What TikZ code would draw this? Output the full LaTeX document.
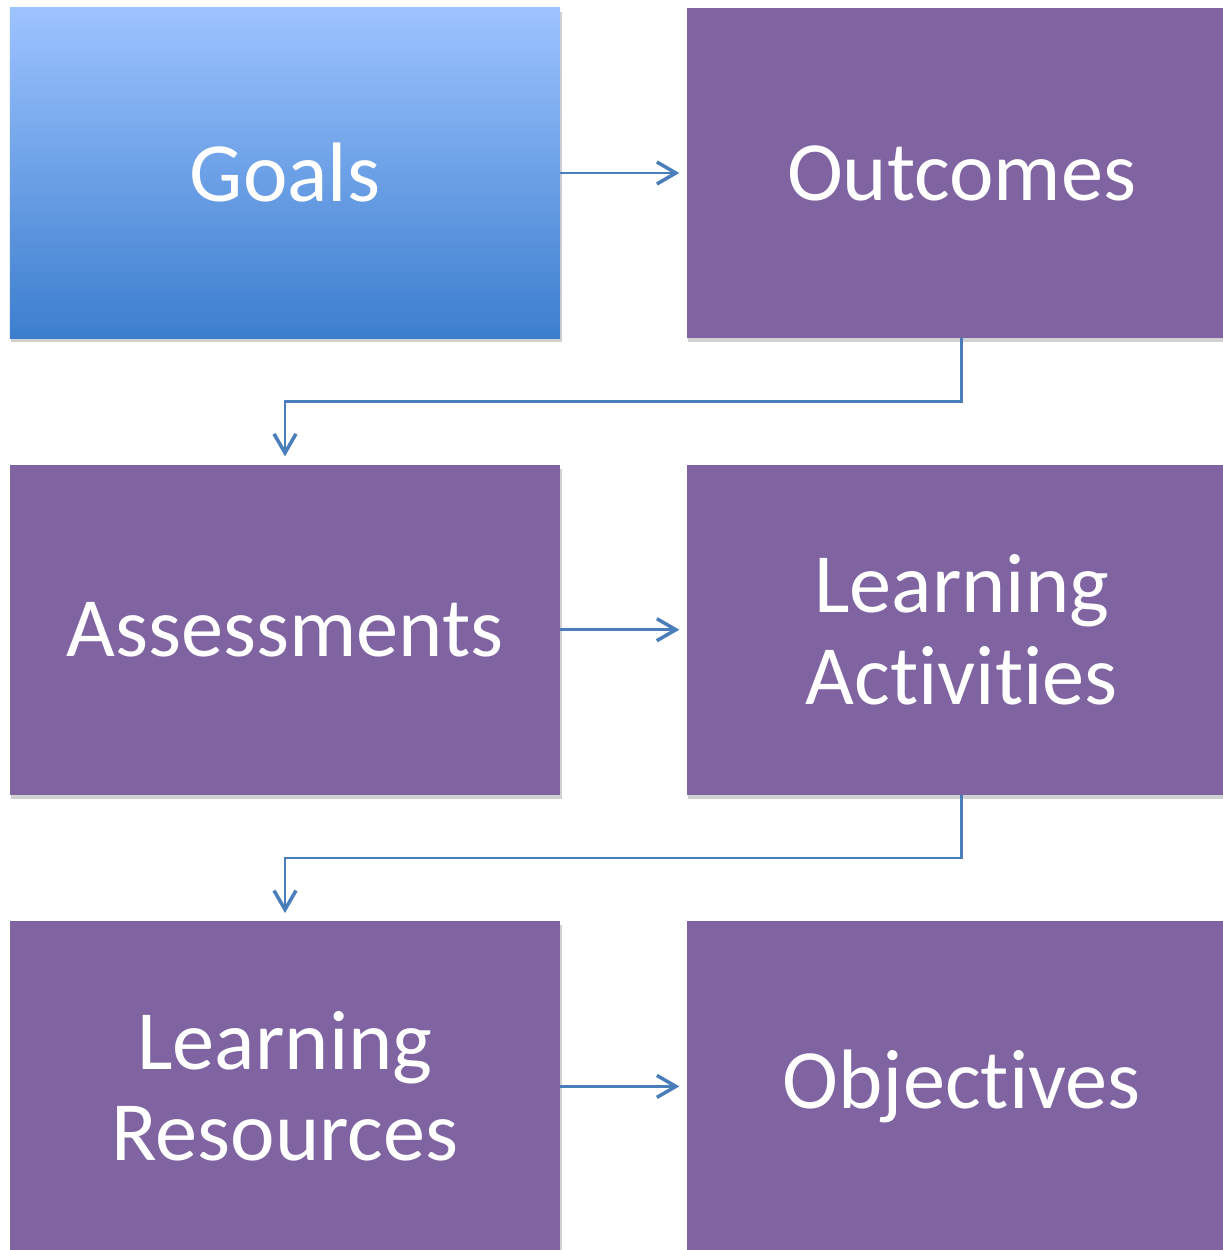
\documentclass[tikz,border=0pt]{standalone}
\usepackage{fontspec}
\setmainfont[Ligatures={NoCommon}]{Carlito}
\usetikzlibrary{positioning,shadows,arrows.meta}
\definecolor{boxpurple}{RGB}{128,100,162}
\definecolor{goaltop}{RGB}{157,195,255}
\definecolor{goalbot}{RGB}{60,126,206}
\definecolor{linkblue}{RGB}{74,126,187}
\tikzset{
    stage/.style={rectangle, minimum width=11cm, minimum height=6.6cm, inner sep=0pt,
        fill=boxpurple, text=white, align=center,
        font=\fontsize{48}{52}\selectfont,
        drop shadow={shadow xshift=0.3mm, shadow yshift=-0.8mm, opacity=0.3, fill=black!60}},
    goalstage/.style={stage, top color=goaltop, bottom color=goalbot},
    link/.style={draw=linkblue, line width=1.5pt, -{Straight Barb[length=0.38cm, width=0.44cm, line width=2pt]}}
}
\begin{document}
\begin{tikzpicture}[node distance=2.52cm]
    \useasboundingbox (0,0) rectangle (24.46,-25);
    \clip (0,0) rectangle (24.46,-25);
    %------------Boxes----------
    \node[goalstage] (goals) at (5.7,-3.46) {Goals};
    \node[stage, right=of goals] (outcomes) {Outcomes};
    \node[stage, below=of goals] (assess) {Assessments};
    \node[stage, right=of assess] (activities) {Learning\\Activities};
    \node[stage, below=of assess] (resources) {Learning\\Resources};
    \node[stage, right=of resources] (objectives) {Objectives};
    %-------------Links-----------
    \draw[link] (goals.east) -- ([xshift=-1.4mm]outcomes.west);
    \draw[link] (assess.east) -- ([xshift=-1.4mm]activities.west);
    \draw[link] (resources.east) -- ([xshift=-1.4mm]objectives.west);
    \draw[link] (outcomes.south) -- ++(0,-1.26) -| ([yshift=1.6mm]assess.north);
    \draw[link] (activities.south) -- ++(0,-1.26) -| ([yshift=1.6mm]resources.north);
\end{tikzpicture}
\end{document}
